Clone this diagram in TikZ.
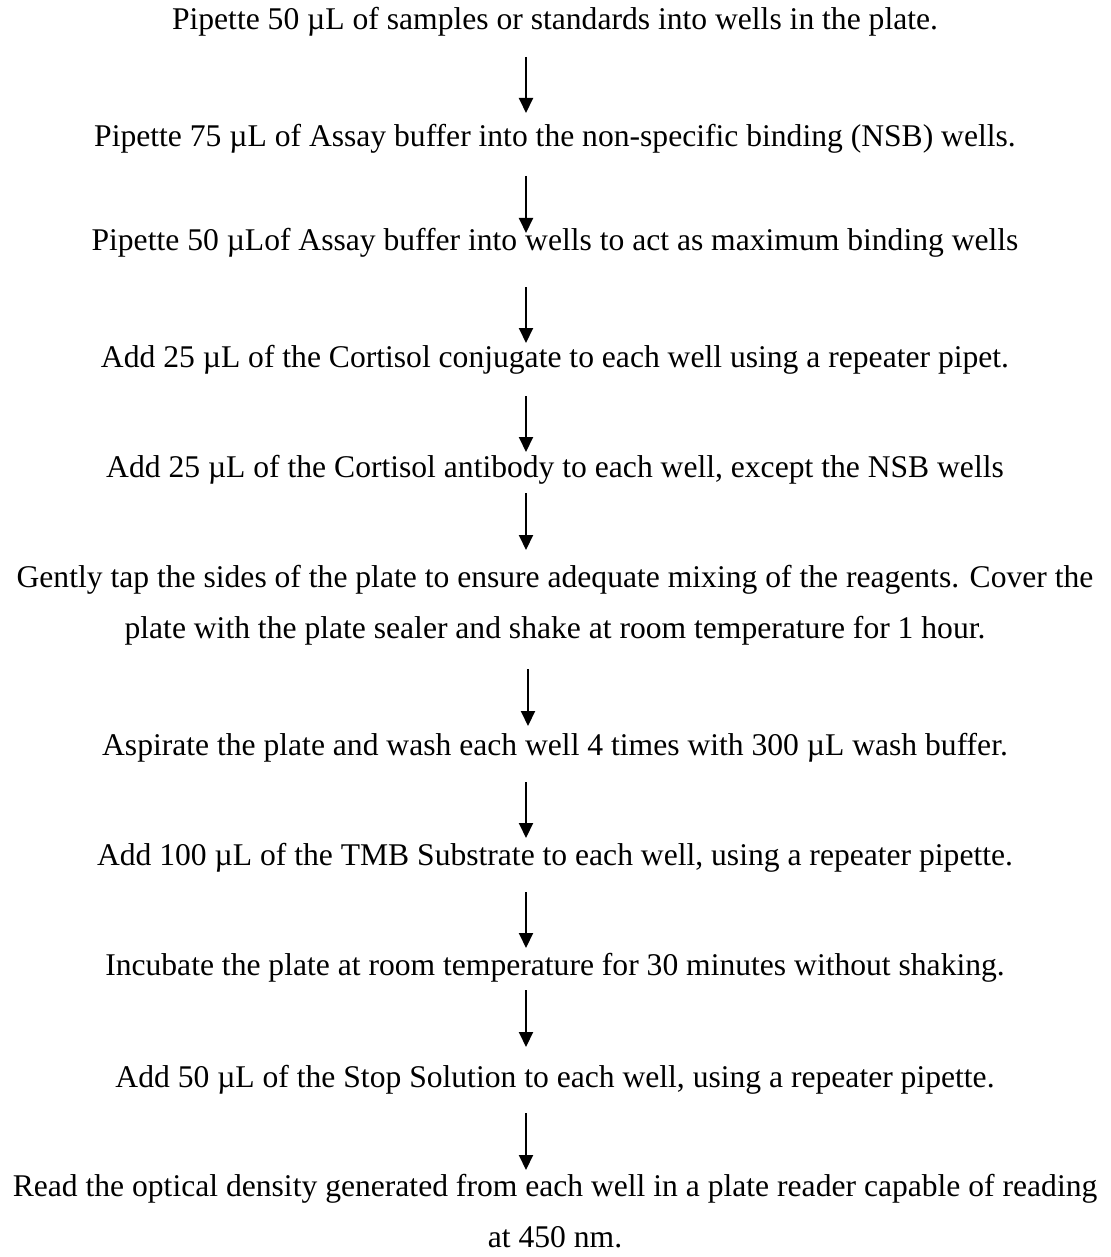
\documentclass[tikz,border=0pt]{standalone}
\usepackage{fontspec}
\setmainfont{Liberation Serif}
\usetikzlibrary{arrows.meta}
\tikzstyle{line} = [draw, line width=1pt, color=black, -{Triangle[width=7pt,length=7.5pt]}]

\begin{document}
\begin{tikzpicture}[x=0.5pt,y=-0.5pt,outer sep=0pt,
stepb/.style={
  inner sep=0pt,
  anchor=base,
  align=center,
  font={\fontsize{15.8}{25.5}\selectfont}},
]
\useasboundingbox (0,0) rectangle (1110,1257);
\node[stepb] (samp) at (555,30) {Pipette 50 µL of samples or standards into wells in the plate.};
\node[stepb] (nsb) at (555,147) {Pipette 75 µL of Assay buffer into the non-specific binding (NSB) wells.};
\node[stepb] (maxb) at (555,250) {Pipette 50 µLof Assay buffer into wells to act as maximum binding wells};
\node[stepb] (conj) at (555,367) {Add 25 µL of the Cortisol conjugate to each well using a repeater pipet.};
\node[stepb] (anti) at (555,477) {Add 25 µL of the Cortisol antibody to each well, except the NSB wells};
\node[stepb] (tap) at (555,638) {Gently tap the sides of the plate to ensure adequate mixing of the reagents. Cover the\\
plate with the plate sealer and shake at room temperature for 1 hour.};
\node[stepb] (wash) at (555,755) {Aspirate the plate and wash each well 4 times with 300 µL wash buffer.};
\node[stepb] (tmb) at (555,865) {Add 100 µL of the TMB Substrate to each well, using a repeater pipette.};
\node[stepb] (incu) at (555,975) {Incubate the plate at room temperature for 30 minutes without shaking.};
\node[stepb] (stop) at (555,1087) {Add 50 µL of the Stop Solution to each well, using a repeater pipette.};
\node[stepb] (read) at (555,1247) {Read the optical density generated from each well in a plate reader capable of reading\\
at 450 nm.};

\path [line] ([xshift=-14.5pt,yshift=-13.5pt]samp.base) -- ([xshift=-14.5pt,yshift=17pt]nsb.base);
\path [line] ([xshift=-14.5pt,yshift=-14.5pt]nsb.base) -- ([xshift=-14.5pt,yshift=8.5pt]maxb.base);
\path [line] ([xshift=-14.5pt,yshift=-18.5pt]maxb.base) -- ([xshift=-14.5pt,yshift=12pt]conj.base);
\path [line] ([xshift=-14.5pt,yshift=-14.5pt]conj.base) -- ([xshift=-14.5pt,yshift=12.5pt]anti.base);
\path [line] ([xshift=-14.5pt,yshift=-8pt]anti.base) -- ([xshift=-14.5pt,yshift=44pt]tap.base);
\path [line] ([xshift=-13.5pt,yshift=-15.5pt]tap.base) -- ([xshift=-13.5pt,yshift=14.5pt]wash.base);
\path [line] ([xshift=-14.5pt,yshift=-13.5pt]wash.base) -- ([xshift=-14.5pt,yshift=13.5pt]tmb.base);
\path [line] ([xshift=-14.5pt,yshift=-13.5pt]tmb.base) -- ([xshift=-14.5pt,yshift=13.5pt]incu.base);
\path [line] ([xshift=-14.5pt,yshift=-7.5pt]incu.base) -- ([xshift=-14.5pt,yshift=20pt]stop.base);
\path [line] ([xshift=-14.5pt,yshift=-13pt]stop.base) -- ([xshift=-14.5pt,yshift=38.5pt]read.base);
\end{tikzpicture}
\end{document}
